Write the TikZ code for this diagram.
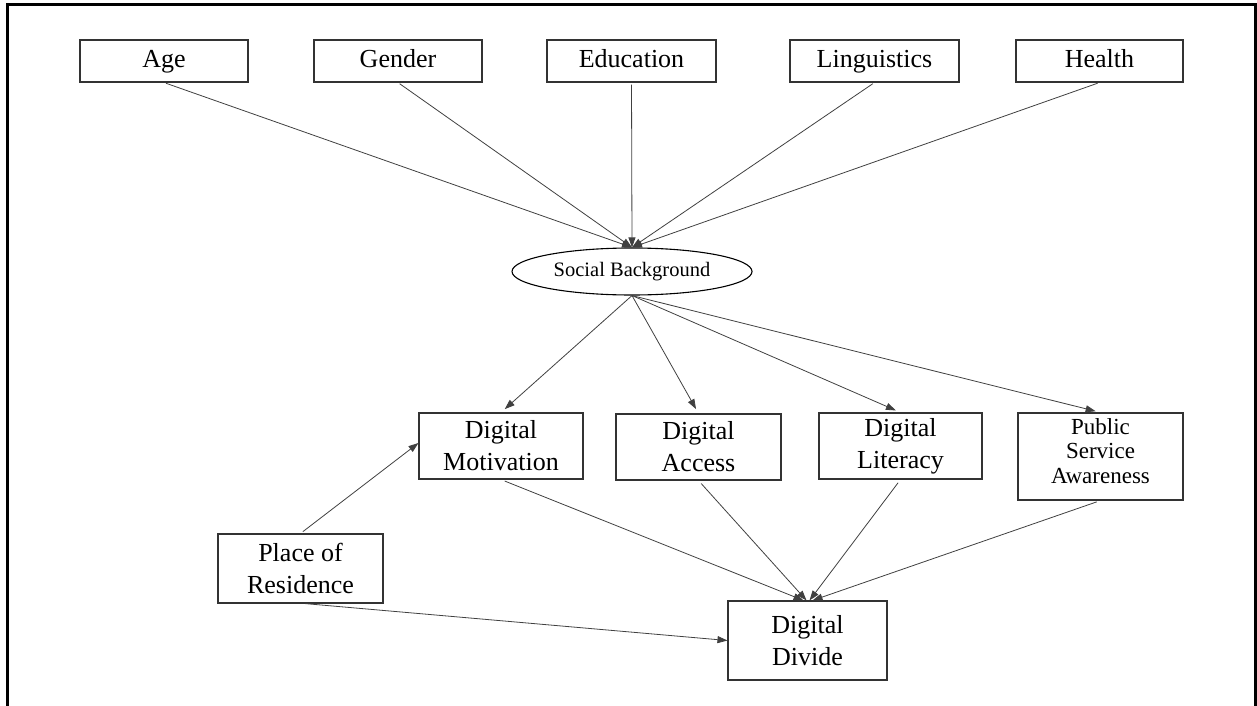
\documentclass[tikz,border=0pt]{standalone}
\usepackage{fontspec}
\setmainfont{Liberation Serif}
\usetikzlibrary{arrows.meta,shapes.geometric}
\begin{document}
\begin{tikzpicture}[x=1pt,y=-1pt,
  box/.style={draw=black!80,line width=1.1pt,inner sep=0pt,align=center,
    font=\fontsize{26}{32}\selectfont},
  topbox/.style={box,minimum height=42pt,text height=18pt,text depth=5pt},
  conn/.style={draw=black!75,line width=0.8pt,-{Triangle[length=10pt,width=7pt]}},
]
\useasboundingbox (0,0) rectangle (1257,706);
\draw[line width=3pt] (7,710) -- (7,5) -- (1255,5) -- (1255,710);
% top row
\node[topbox,minimum width=168pt] (age) at (164,61) {Age};
\node[topbox,minimum width=168pt] (gen) at (398,61) {Gender};
\node[topbox,minimum width=169pt] (edu) at (631.5,61) {Education};
\node[topbox,minimum width=169pt] (lin) at (874.5,61) {Linguistics};
\node[topbox,minimum width=167pt] (hea) at (1099.5,61) {Health};
% ellipse
\node[draw=black,line width=1.1pt,ellipse,minimum width=240pt,minimum height=47pt,inner sep=0pt,
  font=\fontsize{20.5}{24}\selectfont] (sb) at (632,271.5) {Social Background};
% middle row
\node[box,minimum width=164pt,minimum height=66pt] (mot) at (501,446) {Digital\\Motivation};
\node[box,minimum width=165pt,minimum height=66pt] (acc) at (698.5,447) {Digital\\Access};
\node[box,minimum width=163pt,minimum height=66pt] (lit) at (900.5,446) {Digital\\Literacy};
\node[box,minimum width=165pt,minimum height=87pt] (psa) at (1100.5,456.5) {};
\node[align=center,inner sep=0pt,font=\fontsize{23}{24.5}\selectfont] (psat) at (1100.5,451) {Public\\Service\\Awareness};
\node[box,minimum width=165pt,minimum height=69pt] (pla) at (300.5,568.5) {Place of\\Residence};
\node[box,minimum width=159pt,minimum height=79pt] (dd) at (807.5,640.5) {Digital\\Divide};
% connectors
\foreach \n in {age,gen,edu,lin,hea}
  \draw[conn,shorten <=2pt] (\n.south) -- (sb.north);
\foreach \n in {mot,acc,lit,psa}
  \draw[conn,shorten >=5pt] (sb.south) -- (\n.north);
\draw[conn,shorten <=4pt] (mot.south) -- ([xshift=-4pt]dd.north);
\draw[conn,shorten <=4pt] (acc.south) -- ([xshift=-1pt]dd.north);
\draw[conn,shorten <=4pt] (lit.south) -- ([xshift=2pt]dd.north);
\draw[conn,shorten <=4pt] (psa.south) -- ([xshift=5pt]dd.north);
\draw[conn,shorten <=3pt] (pla.north) -- ([yshift=3pt]mot.west);
\draw[conn,shorten <=1pt] ([xshift=4pt]pla.south) -- (dd.west);
\end{tikzpicture}
\end{document}
